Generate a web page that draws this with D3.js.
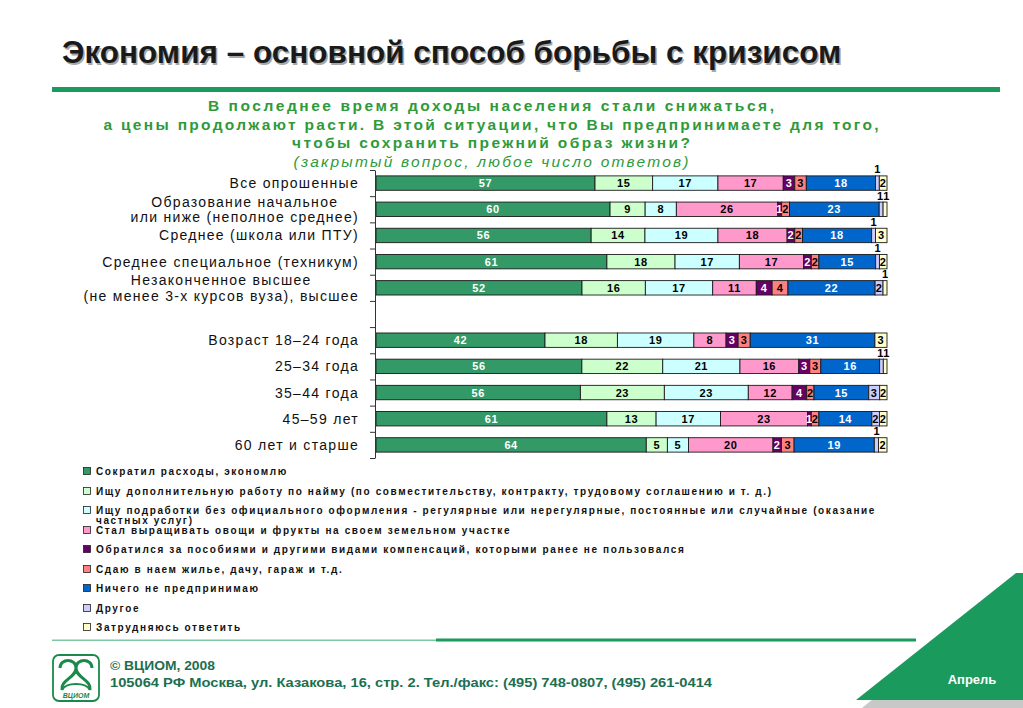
<!DOCTYPE html>
<html><head><meta charset="utf-8">
<script src="https://cdn.jsdelivr.net/npm/d3@7"></script>
<style>body{margin:0;background:#fff}svg{display:block}text{font-family:"Liberation Sans",Arial,sans-serif}</style>
</head><body><svg id="c" width="1023" height="708"></svg>
<script>
const categories = [
  "Все опрошенные",
  "Образование начальное\nили ниже (неполное среднее)",
  "Среднее (школа или ПТУ)",
  "Среднее специальное (техникум)",
  "Незаконченное высшее\n(не менее 3-х курсов вуза), высшее",
  "",
  "Возраст 18–24 года",
  "25–34 года",
  "35–44 года",
  "45–59 лет",
  "60 лет и старше"
];
const seriesNames = [
  "Сократил  расходы, экономлю",
  "Ищу дополнительную работу по найму (по совместительству, контракту, трудовому соглашению и т. д.)",
  "Ищу подработки без официального оформления - регулярные или нерегулярные, постоянные или случайные (оказание\nчастных услуг)",
  "Стал  выращивать овощи и фрукты на своем земельном участке",
  "Обратился за пособиями и другими видами компенсаций, которыми ранее не пользовался",
  "Сдаю в наем жилье, дачу, гараж и т.д.",
  "Ничего не предпринимаю",
  "Другое",
  "Затрудняюсь ответить"
];
const cutSpending = [57, 60, 56, 61, 52, null, 42, 56, 56, 61, 64];
const extraJob    = [15,  9, 14, 18, 16, null, 18, 22, 23, 13,  5];
const sideJobs    = [17,  8, 19, 17, 17, null, 19, 21, 23, 17,  5];
const growing     = [17, 26, 18, 17, 11, null,  8, 16, 12, 23, 20];
const benefits    = [ 3,  1,  2,  2,  4, null,  3,  3,  4,  1,  2];
const renting     = [ 3,  2,  2,  2,  4, null,  3,  3,  2,  2,  3];
const nothing     = [18, 23, 18, 15, 22, null, 31, 16, 15, 14, 19];
const other       = [ 1,  1,  1,  1,  2, null,  0,  1,  3,  2,  1];
const hardToSay   = [ 2,  1,  3,  2,  1, null,  3,  1,  2,  2,  2];
const questionLines = [
  "В последнее время доходы населения стали снижаться,",
  "а цены продолжают расти. В этой ситуации, что Вы предпринимаете для того,",
  "чтобы сохранить прежний образ жизни?"
];
const questionNote = "(закрытый вопрос, любое число ответов)";
const titleText = "Экономия – основной способ борьбы с кризисом";

const seriesValues = [cutSpending, extraJob, sideJobs, growing, benefits, renting, nothing, other, hardToSay];
const colors = ["#339966", "#CCFFCC", "#CCFFFF", "#FF99CC", "#660066", "#FF8080", "#0066CC", "#CCCCFF", "#FFFFCC"];
const labelFill = ["#ffffff", "#000", "#000", "#000", "#ffffff", "#000", "#ffffff", "#000", "#000"];

const svg = d3.select("#c");

// Title
svg.append("text").attr("x", 63.5).attr("y", 64.5).attr("font-size", 31.5).attr("font-weight", "bold")
  .attr("fill", "#a8a8a8").text(titleText);
svg.append("text").attr("x", 62).attr("y", 63).attr("font-size", 31.5).attr("font-weight", "bold")
  .attr("fill", "#1a1a1a").text(titleText);
svg.append("rect").attr("x", 52).attr("y", 87).attr("width", 948).attr("height", 5).attr("fill", "#1a9a5c");

// Question
const qWidths = [566, 775, 398];
const qg = svg.append("g").attr("fill", "#2f9a3a").attr("font-weight", "bold").attr("font-size", 15.5)
  .attr("text-anchor", "middle");
questionLines.forEach((t, i) => {
  qg.append("text").attr("x", 491).attr("y", 111 + i * 18.5)
    .attr("textLength", qWidths[i]).attr("lengthAdjust", "spacing").text(t);
});
svg.append("text").attr("x", 491).attr("y", 167).attr("text-anchor", "middle").attr("font-size", 15.5)
  .attr("font-style", "italic").attr("fill", "#2f9a3a")
  .attr("textLength", 395).attr("lengthAdjust", "spacing").text(questionNote);

// Scales
const x = d3.scaleLinear().domain([0, 1]).range([376, 887]);
const y = d3.scaleBand().domain(d3.range(categories.length)).range([170, 458])
  .paddingInner(0.45).paddingOuter(0.225);
const yTick = d3.scaleLinear().domain([0, categories.length]).range([170, 458]);

const rows = categories.map((c, i) => {
  const r = { idx: i };
  seriesValues.forEach((s, k) => r[k] = s[i] == null ? 0 : s[i]);
  return r;
}).filter(r => seriesValues.some(s => s[r.idx] != null));

const stack = d3.stack().keys(d3.range(seriesValues.length)).offset(d3.stackOffsetExpand);
const stacked = stack(rows);

const barG = svg.append("g");
stacked.forEach((layer, k) => {
  barG.selectAll(null).data(layer.filter(d => d.data[k] > 0)).enter().append("rect")
    .attr("x", d => x(d[0])).attr("width", d => x(d[1]) - x(d[0]))
    .attr("y", d => y(d.data.idx)).attr("height", y.bandwidth())
    .attr("fill", colors[k]).attr("stroke", "#1a1a1a").attr("stroke-width", 0.9);
});
const isAbove = (d, k) => k >= 7 && d.data[k] === 1;
stacked.forEach((layer, k) => {
  barG.selectAll(null).data(layer.filter(d => d.data[k] > 0)).enter().append("text")
    .attr("x", d => {
      let cx = (x(d[0]) + x(d[1])) / 2;
      if (isAbove(d, k) && d.data[7] === 1 && d.data[8] === 1) cx += (k === 7 ? -1.2 : 1.2);
      return cx;
    })
    .attr("y", d => isAbove(d, k) ? y(d.data.idx) - 2.5 : y(d.data.idx) + y.bandwidth() / 2 + 4)
    .attr("text-anchor", "middle").attr("font-size", 11).attr("font-weight", "bold")
    .attr("letter-spacing", d => isAbove(d, k) ? 0 : 0.6)
    .attr("fill", d => isAbove(d, k) ? "#000" : labelFill[k])
    .text(d => d.data[k]);
});

// Axis
const axis = d3.axisLeft(yTick).tickValues(d3.range(categories.length + 1)).tickSize(5).tickSizeOuter(0).tickFormat("");
const ag = svg.append("g").attr("transform", "translate(375,0)").call(axis);
ag.selectAll("path,line").attr("stroke", "#333").attr("stroke-width", 1);

// Category labels
const lg = svg.append("g").attr("font-size", 14).attr("fill", "#111").attr("letter-spacing", 1.3);
categories.forEach((c, i) => {
  if (!c) return;
  const lines = c.split("\n");
  const cy = y(i) + y.bandwidth() / 2;
  if (lines.length === 1) {
    lg.append("text").attr("x", 359).attr("y", cy + 5).attr("text-anchor", "end").text(lines[0]);
  } else {
    const ts = lines.map((l, j) => lg.append("text").attr("y", cy + 5 + (j - 0.5) * 15.5).text(l));
    const w = d3.max(ts, t => t.node().getComputedTextLength());
    ts.forEach(t => t.attr("x", 359 - w / 2).attr("text-anchor", "middle"));
  }
});

// Legend
const legG = svg.append("g").attr("font-size", 10).attr("font-weight", "bold").attr("fill", "#111");
const legY = [471, 491, 510, 530, 549, 569, 588, 608, 627];
seriesNames.forEach((n, k) => {
  legG.append("rect").attr("x", 83.5).attr("y", legY[k] - 3.5).attr("width", 7).attr("height", 7)
    .attr("fill", colors[k]).attr("stroke", "#222").attr("stroke-width", 0.8);
  n.split("\n").forEach((l, j) => {
    legG.append("text").attr("x", 96).attr("y", legY[k] + 3.5 + j * 10).attr("letter-spacing", 1.62).text(l);
  });
});

// Footer
svg.append("rect").attr("x", 52).attr("y", 639.5).attr("width", 385).attr("height", 1.5).attr("fill", "#7fc8a4");
svg.append("rect").attr("x", 436).attr("y", 638.5).attr("width", 480).attr("height", 3).attr("fill", "#1a9a5c");
svg.append("polygon").attr("points", "1020,578 1023,578 1023,708 862,708").attr("fill", "#c8c8c8");
svg.append("polygon").attr("points", "1016,573 1023,573 1023,700 856,700").attr("fill", "#1a9a5c");
svg.append("text").attr("x", 972).attr("y", 684).attr("text-anchor", "middle").attr("font-size", 13)
  .attr("font-weight", "bold").attr("fill", "#fff").attr("font-family", "'Liberation Sans Narrow','DejaVu Sans Condensed',sans-serif")
  .text("Апрель");

// Logo
const logo = svg.append("g").attr("stroke", "#1a8a4a").attr("fill", "none");
logo.append("rect").attr("x", 53).attr("y", 655).attr("width", 46).attr("height", 46).attr("rx", 6).attr("stroke-width", 1.8);
logo.append("path").attr("d", "M60,668 C60,658 76,658 76,668 C76,678 60,680 62,690 M92,668 C92,658 76,658 76,668 C76,678 92,680 90,690").attr("stroke-width", 3);
logo.append("path").attr("d", "M62,690 C66,682 86,682 90,690").attr("stroke-width", 2);
svg.append("text").attr("x", 76).attr("y", 698).attr("text-anchor", "middle").attr("font-size", 7)
  .attr("font-weight", "bold").attr("font-style", "italic").attr("fill", "#1a8a4a").text("ВЦИОМ");

const fg = svg.append("g").attr("fill", "#1c6f50").attr("font-weight", "bold").attr("font-size", 13)
  .attr("font-family", "'Liberation Sans Narrow','DejaVu Sans Condensed',sans-serif");
fg.append("text").attr("x", 110).attr("y", 670).attr("textLength", 105).attr("lengthAdjust", "spacingAndGlyphs").text("© ВЦИОМ, 2008");
fg.append("text").attr("x", 110).attr("y", 687).attr("textLength", 602).attr("lengthAdjust", "spacingAndGlyphs")
  .text("105064 РФ Москва, ул. Казакова, 16, стр. 2.  Тел./факс: (495) 748-0807, (495) 261-0414");
</script></body></html>
